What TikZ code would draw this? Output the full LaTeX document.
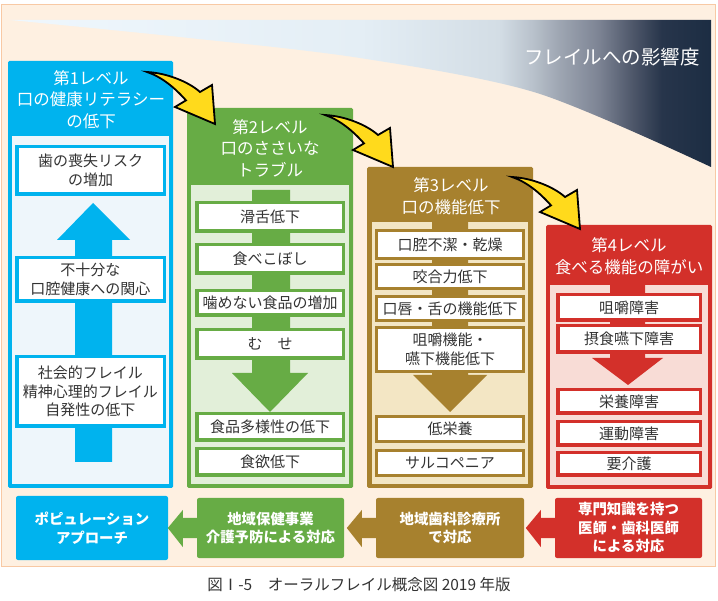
\documentclass[tikz,border=0pt]{standalone}
\usepackage{fontspec}
\setmainfont{Noto Sans CJK JP}
\usetikzlibrary{calc}

\definecolor{bgc}{HTML}{FEF0E1}
\definecolor{bgline}{HTML}{F8C9A4}
\definecolor{bluec}{HTML}{00B3EE}
\definecolor{bluep}{HTML}{EEF6FB}
\definecolor{greenc}{HTML}{67AC45}
\definecolor{greenp}{HTML}{E2EFD9}
\definecolor{brownc}{HTML}{A7812E}
\definecolor{brownp}{HTML}{F3E6C4}
\definecolor{redc}{HTML}{D3302A}
\definecolor{redp}{HTML}{F8DCD6}
\definecolor{yel}{HTML}{FFDA1C}
\definecolor{txt}{HTML}{333333}
\definecolor{gA}{HTML}{EFF7FD}
\definecolor{gB}{HTML}{E4EEF5}
\definecolor{gC}{HTML}{D3DDE5}
\definecolor{gD}{HTML}{B8C1CB}
\definecolor{gE}{HTML}{A0A8B4}
\definecolor{gF}{HTML}{7E8595}
\definecolor{gG}{HTML}{4C5568}
\definecolor{gH}{HTML}{27354B}
\definecolor{gI}{HTML}{1C2D43}

\pgfdeclarehorizontalshading{frailty}{100bp}{color(0bp)=(gA); color(25bp)=(gA); color(50bp)=(gB); color(59.9bp)=(gC); color(62.3bp)=(gD); color(64bp)=(gE); color(66.9bp)=(gF); color(69.5bp)=(gG); color(71.5bp)=(gH); color(75bp)=(gI); color(100bp)=(gI)}

\newcommand{\headfont}{\fontsize{19.5}{22}\selectfont}
\newcommand{\ttlfont}{\fontsize{16.5}{21.5}\selectfont}
\newcommand{\itmfont}{\fontsize{15}{18.5}\selectfont}
\newcommand{\btmfont}{\bfseries\fontsize{14.4}{18.5}\selectfont}
\newcommand{\capfont}{\fontsize{15.5}{17}\selectfont}

\newcommand{\levelarrow}[1]{\draw[yarrow,shift={#1}] (0,0) .. controls (20,1) and (42,10) .. (53,20) -- (65,13) -- (68,52) -- (28,35) -- (39,28.4) .. controls (28,16) and (15,5) .. (0,0) -- cycle;}

\tikzset{
	title/.style={text=white,font=\ttlfont,align=center,inner sep=0pt},
	item/.style={draw=#1,line width=3.5pt,fill=white,inner sep=0pt,text=txt,font=\itmfont,align=center},
	bnode/.style={fill=#1,text=white,font=\btmfont,align=center,rounded corners=2pt,inner sep=0pt},
	yarrow/.style={fill=yel,draw=black,line width=1.8pt,line join=miter}
}

\begin{document}
\begin{tikzpicture}[x=1pt,y=-1pt]
	\useasboundingbox (0,0) rectangle (718,601);
	\fill[bgc,draw=bgline,line width=1pt] (1,5) rectangle (715,566);
	\shade[shading=frailty] (10,20) -- (711,20) -- plot[smooth] coordinates {(711,167) (537,93) (360,58) (180,37) (10,20)} -- cycle;
	\node[text=white,font=\headfont,inner sep=0pt] (head) at (612,57) {フレイルへの影響度};

	% level 1
	\fill[bluec,rounded corners=1.5pt] (8,61) rectangle (173,488);
	\fill[bluep] (12,136) rectangle (169,484);
	\fill[bluec] (75,462) -- (75,240) -- (57,240) -- (93,203) -- (130,240) -- (112,240) -- (112,462) -- cycle;
	\node[title] (t1) at (91,99.5) {第1レベル\\口の健康リテラシー\\の低下};
	\node[item=bluec,minimum width=147.5pt,minimum height=47.5pt] (i11) at (90.5,170.5) {歯の喪失リスク\\の増加};
	\node[item=bluec,minimum width=147.5pt,minimum height=43.5pt] (i12) at (90.5,279.5) {不十分な\\口腔健康への関心};
	\node[item=bluec,minimum width=147.5pt,minimum height=69.5pt] (i13) at (90.5,391.5) {社会的フレイル\\精神心理的フレイル\\自発性の低下};

	% level 2
	\fill[greenc,rounded corners=1.5pt] (187,108) rectangle (353,488);
	\fill[greenp] (191,185) rectangle (349,484);
	\fill[greenc] (252,190) -- (252,373) -- (232,373) -- (270,412) -- (308,373) -- (290,373) -- (290,190) -- cycle;
	\node[title] (t2) at (270,148) {第2レベル\\口のささいな\\トラブル};
	\node[item=greenc,minimum width=146.5pt,minimum height=28.5pt] (i21) at (270,217) {滑舌低下};
	\node[item=greenc,minimum width=146.5pt,minimum height=28.5pt] (i22) at (270,259) {食べこぼし};
	\node[item=greenc,minimum width=146.5pt,minimum height=24.5pt] (i23) at (270,303) {噛めない食品の増加};
	\node[item=greenc,minimum width=146.5pt,minimum height=28.5pt] (i24) at (270,344) {む　せ};
	\node[item=greenc,minimum width=146.5pt,minimum height=26.5pt] (i25) at (270,427) {食品多様性の低下};
	\node[item=greenc,minimum width=146.5pt,minimum height=26.5pt] (i26) at (270,462) {食欲低下};

	% level 3
	\fill[brownc,rounded corners=1.5pt] (367,167) rectangle (533,488);
	\fill[brownp] (372,222) rectangle (528,484);
	\fill[brownc] (432,222) -- (432,375) -- (413,375) -- (450,412) -- (487,375) -- (468,375) -- (468,222) -- cycle;
	\node[title] (t3) at (451,196) {第3レベル\\口の機能低下};
	\node[item=brownc,line width=3pt,minimum width=147pt,minimum height=28pt] (i31) at (450,244.5) {口腔不潔・乾燥};
	\node[item=brownc,line width=3pt,minimum width=147pt,minimum height=24pt] (i32) at (450,276.5) {咬合力低下};
	\node[item=brownc,line width=3pt,minimum width=147pt,minimum height=24pt] (i33) at (450,308.5) {口唇・舌の機能低下};
	\node[item=brownc,line width=3pt,minimum width=147pt,minimum height=44pt] (i34) at (450,349.5) {咀嚼機能・\\嚥下機能低下};
	\node[item=brownc,line width=3pt,minimum width=147pt,minimum height=25pt] (i35) at (450,429) {低栄養};
	\node[item=brownc,line width=3pt,minimum width=147pt,minimum height=25pt] (i36) at (450,463) {サルコペニア};

	% level 4
	\fill[redc,rounded corners=1.5pt] (546,225) rectangle (712,489);
	\fill[redp] (550,285) rectangle (708,485);
	\fill[redc] (610,285) -- (610,358) -- (592,358) -- (628,385) -- (663,358) -- (645,358) -- (645,285) -- cycle;
	\node[title] (t4) at (629,256) {第4レベル\\食べる機能の障がい};
	\node[item=redc,minimum width=142.5pt,minimum height=25.5pt] (i41) at (629,307.5) {咀嚼障害};
	\node[item=redc,minimum width=142.5pt,minimum height=26.5pt] (i42) at (629,339) {摂食嚥下障害};
	\node[item=redc,minimum width=142.5pt,minimum height=23.5pt] (i43) at (629,401.5) {栄養障害};
	\node[item=redc,minimum width=142.5pt,minimum height=23.5pt] (i44) at (629,433.5) {運動障害};
	\node[item=redc,minimum width=142.5pt,minimum height=22.5pt] (i45) at (629,464) {要介護};

	% curved arrows between levels
	\levelarrow{(147,72)}
	\levelarrow{(325,115)}
	\levelarrow{(512,177)}

	% bottom row
	\node[bnode=bluec,minimum width=152pt,minimum height=64pt] (b1) at (92,528) {ポピュレーション\\アプローチ};
	\node[bnode=greenc,minimum width=147pt,minimum height=60pt] (b2) at (270.5,528) {地域保健事業\\介護予防による対応};
	\node[bnode=brownc,minimum width=148pt,minimum height=60pt] (b3) at (450,528) {地域歯科診療所\\で対応};
	\node[bnode=redc,minimum width=147pt,minimum height=60pt] (b4) at (628.5,528) {専門知識を持つ\\医師・歯科医師\\による対応};
	\fill[greenc] ($(b2.west)+(1,-10)$) -- ++(-15,0) -- ++(0,-8) -- ++(-15,18) -- ++(15,19) -- ++(0,-9) -- ++(15,0) -- cycle;
	\fill[brownc] ($(b3.west)+(1,-10)$) -- ++(-15,0) -- ++(0,-8) -- ++(-15,18) -- ++(15,19) -- ++(0,-9) -- ++(15,0) -- cycle;
	\fill[redc] ($(b4.west)+(1,-10)$) -- ++(-15,0) -- ++(0,-8) -- ++(-15,18) -- ++(15,19) -- ++(0,-9) -- ++(15,0) -- cycle;

	\node[text=txt,font=\capfont,inner sep=0pt] (cap) at (359,585) {図Ⅰ-5　オーラルフレイル概念図 2019 年版};
\end{tikzpicture}
\end{document}
